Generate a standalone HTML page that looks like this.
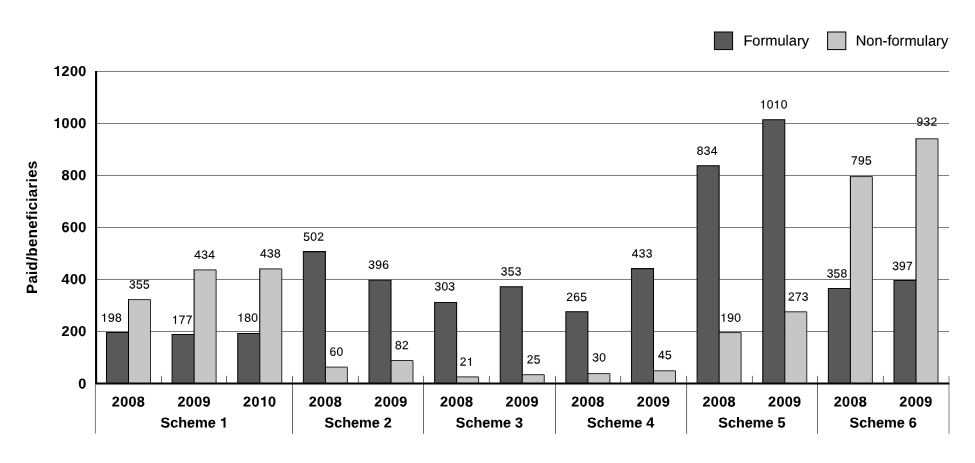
<!DOCTYPE html>
<html><head><meta charset="utf-8"><title>Chart</title>
<style>
html,body{margin:0;padding:0;background:#fff;}
svg{display:block;will-change:transform}
text{font-family:"Liberation Sans",sans-serif;fill:#000}
.b,.s,.t{font-weight:bold;font-size:14.4px;stroke:#000;stroke-width:0.1px}
.b{letter-spacing:0.35px}
.t{letter-spacing:0.38px;font-size:14.9px}
.h{fill:none;stroke:none}
.v{font-size:12px;letter-spacing:0.28px;stroke:#000;stroke-width:0.12px}
.l{font-size:14.6px;stroke:#000;stroke-width:0.14px}
</style></head><body>
<svg width="975" height="463" viewBox="0 0 975 463">
<rect width="975" height="463" fill="#fff"/>
<line x1="95.7" y1="71.5" x2="949" y2="71.5" stroke="#7e7e7e" stroke-width="1"/>
<line x1="95.7" y1="123.5" x2="949" y2="123.5" stroke="#7e7e7e" stroke-width="1"/>
<line x1="95.7" y1="175.5" x2="949" y2="175.5" stroke="#7e7e7e" stroke-width="1"/>
<line x1="95.7" y1="227.5" x2="949" y2="227.5" stroke="#7e7e7e" stroke-width="1"/>
<line x1="95.7" y1="279.5" x2="949" y2="279.5" stroke="#7e7e7e" stroke-width="1"/>
<line x1="95.7" y1="331.5" x2="949" y2="331.5" stroke="#7e7e7e" stroke-width="1"/>
<line x1="95.4" y1="384" x2="95.4" y2="433.5" stroke="#777" stroke-width="1"/>
<line x1="161.5" y1="375.8" x2="161.5" y2="383" stroke="#707070" stroke-width="1"/>
<line x1="226.5" y1="375.8" x2="226.5" y2="383" stroke="#707070" stroke-width="1"/>
<line x1="292.5" y1="375.8" x2="292.5" y2="433.8" stroke="#6c6c6c" stroke-width="1"/>
<line x1="358.4" y1="375.8" x2="358.4" y2="383" stroke="#707070" stroke-width="1"/>
<line x1="423.5" y1="375.8" x2="423.5" y2="433.8" stroke="#6c6c6c" stroke-width="1"/>
<line x1="489.4" y1="375.8" x2="489.4" y2="383" stroke="#707070" stroke-width="1"/>
<line x1="555.5" y1="375.8" x2="555.5" y2="433.8" stroke="#6c6c6c" stroke-width="1"/>
<line x1="620.6" y1="375.8" x2="620.6" y2="383" stroke="#707070" stroke-width="1"/>
<line x1="686.6" y1="375.8" x2="686.6" y2="433.8" stroke="#6c6c6c" stroke-width="1"/>
<line x1="752.4" y1="375.8" x2="752.4" y2="383" stroke="#707070" stroke-width="1"/>
<line x1="817.5" y1="375.8" x2="817.5" y2="433.8" stroke="#6c6c6c" stroke-width="1"/>
<line x1="883.4" y1="375.8" x2="883.4" y2="383" stroke="#707070" stroke-width="1"/>
<line x1="949" y1="376" x2="949" y2="433.8" stroke="#aaa" stroke-width="1.4"/>
<rect x="106.50" y="332.4" width="22" height="51.1" fill="#595959"/>
<rect x="128.50" y="299.6" width="22" height="83.9" fill="#c6c6c6"/>
<path d="M128.50,299.6 H150.50 V383.5" fill="none" stroke="#2c2c2c" stroke-width="1"/>
<path d="M106.50,383.5 V332.4 H128.50" fill="none" stroke="#0a0a0a" stroke-width="1.05"/>
<path d="M128.50,383.5 V299.1" fill="none" stroke="#000" stroke-width="1.05"/>
<rect x="172.12" y="334.5" width="22" height="49.0" fill="#595959"/>
<rect x="194.12" y="269.9" width="22" height="113.6" fill="#c6c6c6"/>
<path d="M194.12,269.9 H216.12 V383.5" fill="none" stroke="#2c2c2c" stroke-width="1"/>
<path d="M172.12,383.5 V334.5 H194.12" fill="none" stroke="#0a0a0a" stroke-width="1.05"/>
<path d="M194.12,383.5 V269.4" fill="none" stroke="#000" stroke-width="1.05"/>
<rect x="237.75" y="333.5" width="22" height="50.0" fill="#595959"/>
<rect x="259.75" y="268.9" width="22" height="114.6" fill="#c6c6c6"/>
<path d="M259.75,268.9 H281.75 V383.5" fill="none" stroke="#2c2c2c" stroke-width="1"/>
<path d="M237.75,383.5 V333.5 H259.75" fill="none" stroke="#0a0a0a" stroke-width="1.05"/>
<path d="M259.75,383.5 V268.4" fill="none" stroke="#000" stroke-width="1.05"/>
<rect x="303.38" y="251.6" width="22" height="131.9" fill="#595959"/>
<rect x="325.38" y="367.1" width="22" height="16.4" fill="#c6c6c6"/>
<path d="M325.38,367.1 H347.38 V383.5" fill="none" stroke="#2c2c2c" stroke-width="1"/>
<path d="M303.38,383.5 V251.6 H325.38" fill="none" stroke="#0a0a0a" stroke-width="1.05"/>
<path d="M325.38,383.5 V251.1" fill="none" stroke="#000" stroke-width="1.05"/>
<rect x="369.00" y="280.3" width="22" height="103.2" fill="#595959"/>
<rect x="391.00" y="360.5" width="22" height="23.0" fill="#c6c6c6"/>
<path d="M391.00,360.5 H413.00 V383.5" fill="none" stroke="#2c2c2c" stroke-width="1"/>
<path d="M369.00,383.5 V280.3 H391.00" fill="none" stroke="#0a0a0a" stroke-width="1.05"/>
<path d="M391.00,383.5 V279.8" fill="none" stroke="#000" stroke-width="1.05"/>
<rect x="434.62" y="302.5" width="22" height="81.0" fill="#595959"/>
<rect x="456.62" y="376.9" width="22" height="6.6" fill="#c6c6c6"/>
<path d="M456.62,376.9 H478.62 V383.5" fill="none" stroke="#2c2c2c" stroke-width="1"/>
<path d="M434.62,383.5 V302.5 H456.62" fill="none" stroke="#0a0a0a" stroke-width="1.05"/>
<path d="M456.62,383.5 V302.0" fill="none" stroke="#000" stroke-width="1.05"/>
<rect x="500.25" y="286.7" width="22" height="96.8" fill="#595959"/>
<rect x="522.25" y="374.7" width="22" height="8.8" fill="#c6c6c6"/>
<path d="M522.25,374.7 H544.25 V383.5" fill="none" stroke="#2c2c2c" stroke-width="1"/>
<path d="M500.25,383.5 V286.7 H522.25" fill="none" stroke="#0a0a0a" stroke-width="1.05"/>
<path d="M522.25,383.5 V286.2" fill="none" stroke="#000" stroke-width="1.05"/>
<rect x="565.88" y="311.7" width="22" height="71.8" fill="#595959"/>
<rect x="587.88" y="373.6" width="22" height="9.9" fill="#c6c6c6"/>
<path d="M587.88,373.6 H609.88 V383.5" fill="none" stroke="#2c2c2c" stroke-width="1"/>
<path d="M565.88,383.5 V311.7 H587.88" fill="none" stroke="#0a0a0a" stroke-width="1.05"/>
<path d="M587.88,383.5 V311.2" fill="none" stroke="#000" stroke-width="1.05"/>
<rect x="631.50" y="268.6" width="22" height="114.9" fill="#595959"/>
<rect x="653.50" y="370.8" width="22" height="12.7" fill="#c6c6c6"/>
<path d="M653.50,370.8 H675.50 V383.5" fill="none" stroke="#2c2c2c" stroke-width="1"/>
<path d="M631.50,383.5 V268.6 H653.50" fill="none" stroke="#0a0a0a" stroke-width="1.05"/>
<path d="M653.50,383.5 V268.1" fill="none" stroke="#000" stroke-width="1.05"/>
<rect x="697.12" y="165.7" width="22" height="217.8" fill="#595959"/>
<rect x="719.12" y="332.6" width="22" height="50.9" fill="#c6c6c6"/>
<path d="M719.12,332.6 H741.12 V383.5" fill="none" stroke="#2c2c2c" stroke-width="1"/>
<path d="M697.12,383.5 V165.7 H719.12" fill="none" stroke="#0a0a0a" stroke-width="1.05"/>
<path d="M719.12,383.5 V165.2" fill="none" stroke="#000" stroke-width="1.05"/>
<rect x="762.75" y="119.7" width="22" height="263.8" fill="#595959"/>
<rect x="784.75" y="311.8" width="22" height="71.7" fill="#c6c6c6"/>
<path d="M784.75,311.8 H806.75 V383.5" fill="none" stroke="#2c2c2c" stroke-width="1"/>
<path d="M762.75,383.5 V119.7 H784.75" fill="none" stroke="#0a0a0a" stroke-width="1.05"/>
<path d="M784.75,383.5 V119.2" fill="none" stroke="#000" stroke-width="1.05"/>
<rect x="828.38" y="288.4" width="22" height="95.1" fill="#595959"/>
<rect x="850.38" y="176.6" width="22" height="206.9" fill="#c6c6c6"/>
<path d="M850.38,176.6 H872.38 V383.5" fill="none" stroke="#2c2c2c" stroke-width="1"/>
<path d="M828.38,383.5 V288.4 H850.38" fill="none" stroke="#0a0a0a" stroke-width="1.05"/>
<path d="M850.38,383.5 V176.1" fill="none" stroke="#000" stroke-width="1.05"/>
<rect x="894.00" y="280.4" width="22" height="103.1" fill="#595959"/>
<rect x="916.00" y="138.8" width="22" height="244.7" fill="#c6c6c6"/>
<path d="M916.00,138.8 H938.00 V383.5" fill="none" stroke="#2c2c2c" stroke-width="1"/>
<path d="M894.00,383.5 V280.4 H916.00" fill="none" stroke="#0a0a0a" stroke-width="1.05"/>
<path d="M916.00,383.5 V138.3" fill="none" stroke="#000" stroke-width="1.05"/>
<path d="M96.1,71 V383.55 H949.3" fill="none" stroke="#000" stroke-width="2.1" stroke-linejoin="round"/>
<g transform="translate(111.40 321.80) rotate(0.03)"><text id="t0" class="v" text-anchor="middle"><tspan class="h">1</tspan>98</text><path d="M-7.34,-5.97L-7.34,0.00L-6.28,0.00L-6.28,-8.38L-6.98,-8.38C-7.35,-7.09 -7.59,-6.91 -9.22,-6.71L-9.22,-5.97Z" fill="#000" stroke="#000" stroke-width="0.12"/></g>
<g transform="translate(139.50 288.40) rotate(0.03)"><text id="t1" class="v" text-anchor="middle">355</text></g>
<g transform="translate(182.30 323.80) rotate(0.03)"><text id="t2" class="v" text-anchor="middle"><tspan class="h">1</tspan>77</text><path d="M-7.34,-5.97L-7.34,0.00L-6.28,0.00L-6.28,-8.38L-6.98,-8.38C-7.35,-7.09 -7.59,-6.91 -9.22,-6.71L-9.22,-5.97Z" fill="#000" stroke="#000" stroke-width="0.12"/></g>
<g transform="translate(204.70 258.80) rotate(0.03)"><text id="t3" class="v" text-anchor="middle">434</text></g>
<g transform="translate(247.80 321.80) rotate(0.03)"><text id="t4" class="v" text-anchor="middle"><tspan class="h">1</tspan>80</text><path d="M-7.34,-5.97L-7.34,0.00L-6.28,0.00L-6.28,-8.38L-6.98,-8.38C-7.35,-7.09 -7.59,-6.91 -9.22,-6.71L-9.22,-5.97Z" fill="#000" stroke="#000" stroke-width="0.12"/></g>
<g transform="translate(270.50 257.50) rotate(0.03)"><text id="t5" class="v" text-anchor="middle">438</text></g>
<g transform="translate(313.70 240.80) rotate(0.03)"><text id="t6" class="v" text-anchor="middle">502</text></g>
<g transform="translate(336.40 355.80) rotate(0.03)"><text id="t7" class="v" text-anchor="middle">60</text></g>
<g transform="translate(378.80 268.80) rotate(0.03)"><text id="t8" class="v" text-anchor="middle">396</text></g>
<g transform="translate(402.00 349.20) rotate(0.03)"><text id="t9" class="v" text-anchor="middle">82</text></g>
<g transform="translate(444.90 290.60) rotate(0.03)"><text id="t10" class="v" text-anchor="middle">303</text></g>
<g transform="translate(466.80 365.80) rotate(0.03)"><text id="t11" class="v" text-anchor="middle">2<tspan class="h">1</tspan></text><path d="M3.11,-5.97L3.11,0.00L4.16,0.00L4.16,-8.38L3.47,-8.38C3.10,-7.09 2.86,-6.91 1.22,-6.71L1.22,-5.97Z" fill="#000" stroke="#000" stroke-width="0.12"/></g>
<g transform="translate(511.20 275.40) rotate(0.03)"><text id="t12" class="v" text-anchor="middle">353</text></g>
<g transform="translate(533.70 363.50) rotate(0.03)"><text id="t13" class="v" text-anchor="middle">25</text></g>
<g transform="translate(576.80 300.90) rotate(0.03)"><text id="t14" class="v" text-anchor="middle">265</text></g>
<g transform="translate(599.20 361.40) rotate(0.03)"><text id="t15" class="v" text-anchor="middle">30</text></g>
<g transform="translate(642.30 257.50) rotate(0.03)"><text id="t16" class="v" text-anchor="middle">433</text></g>
<g transform="translate(665.00 358.90) rotate(0.03)"><text id="t17" class="v" text-anchor="middle">45</text></g>
<g transform="translate(707.30 154.80) rotate(0.03)"><text id="t18" class="v" text-anchor="middle">834</text></g>
<g transform="translate(730.70 321.80) rotate(0.03)"><text id="t19" class="v" text-anchor="middle"><tspan class="h">1</tspan>90</text><path d="M-7.34,-5.97L-7.34,0.00L-6.28,0.00L-6.28,-8.38L-6.98,-8.38C-7.35,-7.09 -7.59,-6.91 -9.22,-6.71L-9.22,-5.97Z" fill="#000" stroke="#000" stroke-width="0.12"/></g>
<g transform="translate(773.70 108.60) rotate(0.03)"><text id="t20" class="v" text-anchor="middle"><tspan class="h">1</tspan>0<tspan class="h">1</tspan>0</text><path d="M-10.83,-5.97L-10.83,0.00L-9.77,0.00L-9.77,-8.38L-10.47,-8.38C-10.84,-7.09 -11.08,-6.91 -12.71,-6.71L-12.71,-5.97Z" fill="#000" stroke="#000" stroke-width="0.12"/><path d="M3.11,-5.97L3.11,0.00L4.16,0.00L4.16,-8.38L3.47,-8.38C3.10,-7.09 2.86,-6.91 1.22,-6.71L1.22,-5.97Z" fill="#000" stroke="#000" stroke-width="0.12"/></g>
<g transform="translate(798.40 300.70) rotate(0.03)"><text id="t21" class="v" text-anchor="middle">273</text></g>
<g transform="translate(837.10 277.50) rotate(0.03)"><text id="t22" class="v" text-anchor="middle">358</text></g>
<g transform="translate(861.50 164.60) rotate(0.03)"><text id="t23" class="v" text-anchor="middle">795</text></g>
<g transform="translate(902.60 269.90) rotate(0.03)"><text id="t24" class="v" text-anchor="middle">397</text></g>
<g transform="translate(927.00 125.70) rotate(0.03)"><text id="t25" class="v" text-anchor="middle">932</text></g>
<g transform="translate(86.60 76.00) rotate(0.03)"><text id="t26" class="b" text-anchor="end"><tspan class="h">1</tspan>200</text><path d="M-29.56,-6.87L-29.56,0.00L-27.69,0.00L-27.69,-10.06L-29.17,-10.06C-29.42,-8.87 -30.33,-8.30 -32.20,-8.27L-32.20,-6.87Z" fill="#000" stroke="#000" stroke-width="0.1"/></g>
<g transform="translate(86.60 128.00) rotate(0.03)"><text id="t27" class="b" text-anchor="end"><tspan class="h">1</tspan>000</text><path d="M-29.56,-6.87L-29.56,0.00L-27.69,0.00L-27.69,-10.06L-29.17,-10.06C-29.42,-8.87 -30.33,-8.30 -32.20,-8.27L-32.20,-6.87Z" fill="#000" stroke="#000" stroke-width="0.1"/></g>
<g transform="translate(86.60 180.00) rotate(0.03)"><text id="t28" class="b" text-anchor="end">800</text></g>
<g transform="translate(86.60 232.00) rotate(0.03)"><text id="t29" class="b" text-anchor="end">600</text></g>
<g transform="translate(86.60 284.00) rotate(0.03)"><text id="t30" class="b" text-anchor="end">400</text></g>
<g transform="translate(86.60 336.00) rotate(0.03)"><text id="t31" class="b" text-anchor="end">200</text></g>
<g transform="translate(86.60 388.60) rotate(0.03)"><text id="t32" class="b" text-anchor="end">0</text></g>
<g transform="translate(128.51 406.50) rotate(0.03)"><text id="t33" class="b" text-anchor="middle">2008</text></g>
<g transform="translate(194.14 406.50) rotate(0.03)"><text id="t34" class="b" text-anchor="middle">2009</text></g>
<g transform="translate(259.76 406.50) rotate(0.03)"><text id="t35" class="b" text-anchor="middle">20<tspan class="h">1</tspan>0</text><path d="M3.86,-6.87L3.86,0.00L5.73,0.00L5.73,-10.06L4.25,-10.06C4.00,-8.87 3.10,-8.30 1.22,-8.27L1.22,-6.87Z" fill="#000" stroke="#000" stroke-width="0.1"/></g>
<g transform="translate(325.39 406.50) rotate(0.03)"><text id="t36" class="b" text-anchor="middle">2008</text></g>
<g transform="translate(391.01 406.50) rotate(0.03)"><text id="t37" class="b" text-anchor="middle">2009</text></g>
<g transform="translate(456.64 406.50) rotate(0.03)"><text id="t38" class="b" text-anchor="middle">2008</text></g>
<g transform="translate(522.26 406.50) rotate(0.03)"><text id="t39" class="b" text-anchor="middle">2009</text></g>
<g transform="translate(587.89 406.50) rotate(0.03)"><text id="t40" class="b" text-anchor="middle">2008</text></g>
<g transform="translate(653.51 406.50) rotate(0.03)"><text id="t41" class="b" text-anchor="middle">2009</text></g>
<g transform="translate(719.14 406.50) rotate(0.03)"><text id="t42" class="b" text-anchor="middle">2008</text></g>
<g transform="translate(784.76 406.50) rotate(0.03)"><text id="t43" class="b" text-anchor="middle">2009</text></g>
<g transform="translate(850.39 406.50) rotate(0.03)"><text id="t44" class="b" text-anchor="middle">2008</text></g>
<g transform="translate(916.01 406.50) rotate(0.03)"><text id="t45" class="b" text-anchor="middle">2009</text></g>
<g transform="translate(194.14 427.60) rotate(0.03)"><text id="t46" class="s" text-anchor="middle">Scheme <tspan class="h">1</tspan></text><path d="M29.45,-6.87L29.45,0.00L31.32,0.00L31.32,-10.06L29.84,-10.06C29.60,-8.87 28.69,-8.30 26.82,-8.27L26.82,-6.87Z" fill="#000" stroke="#000" stroke-width="0.1"/></g>
<g transform="translate(358.20 427.60) rotate(0.03)"><text id="t47" class="s" text-anchor="middle">Scheme 2</text></g>
<g transform="translate(489.45 427.60) rotate(0.03)"><text id="t48" class="s" text-anchor="middle">Scheme 3</text></g>
<g transform="translate(620.70 427.60) rotate(0.03)"><text id="t49" class="s" text-anchor="middle">Scheme 4</text></g>
<g transform="translate(751.95 427.60) rotate(0.03)"><text id="t50" class="s" text-anchor="middle">Scheme 5</text></g>
<g transform="translate(883.20 427.60) rotate(0.03)"><text id="t51" class="s" text-anchor="middle">Scheme 6</text></g>
<g transform="translate(36.90 227.20) rotate(-90.03)"><text id="t52" class="t" text-anchor="middle">Paid/beneficiaries</text></g>
<rect x="714.4" y="32" width="18.2" height="17.6" fill="#595959" stroke="#000" stroke-width="1"/>
<g transform="translate(743.40 45.60) rotate(0.03)"><text id="t53" class="l">Formulary</text></g>
<rect x="827.6" y="32" width="18.2" height="17.6" fill="#c6c6c6" stroke="#000" stroke-width="1"/>
<g transform="translate(855.80 45.60) rotate(0.03)"><text id="t54" class="l">Non-formulary</text></g>
</svg></body></html>
